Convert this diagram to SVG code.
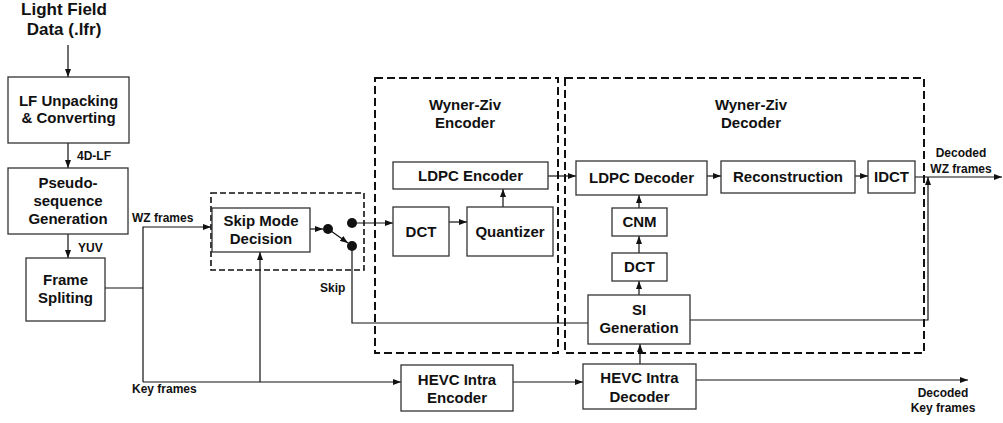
<svg xmlns="http://www.w3.org/2000/svg" width="1003" height="423" viewBox="0 0 1003 423">
<defs>
<marker id="ah" markerWidth="8" markerHeight="6" refX="8" refY="3" orient="auto" markerUnits="userSpaceOnUse">
<path d="M0,0 L8,3 L0,6 z" fill="#111"/>
</marker>
<style>
.box{fill:#fff;stroke:#333;stroke-width:1.3}
.dash{fill:none;stroke:#111;stroke-width:2;stroke-dasharray:8 4}
.dash2{fill:none;stroke:#111;stroke-width:1.6;stroke-dasharray:6 3}
.t{font-family:"Liberation Sans",Arial,sans-serif;font-weight:bold;font-size:15px;fill:#111;text-anchor:middle}
.ti{font-family:"Liberation Sans",Arial,sans-serif;font-weight:bold;font-size:17px;fill:#111;text-anchor:middle}
.s{font-family:"Liberation Sans",Arial,sans-serif;font-weight:bold;font-size:12px;fill:#111}
.sm{font-family:"Liberation Sans",Arial,sans-serif;font-weight:bold;font-size:12px;fill:#111;text-anchor:middle}
.c{fill:none;stroke:#111;stroke-width:1.2}
.a{fill:none;stroke:#111;stroke-width:1.2;marker-end:url(#ah)}
</style>
</defs>
<rect width="1003" height="423" fill="#fff"/>

<g id="groups">
<rect class="dash2" x="211" y="193" width="153" height="77"/>
<rect class="dash" x="375" y="78" width="183" height="275"/>
<rect class="dash" x="565" y="78" width="359" height="275"/>
<text class="t" x="465" y="110">Wyner-Ziv</text>
<text class="t" x="465" y="128">Encoder</text>
<text class="t" x="751" y="110">Wyner-Ziv</text>
<text class="t" x="751" y="128">Decoder</text>
</g>

<g id="connectors">
<line class="a" x1="68" y1="45" x2="68" y2="77"/>
<line class="a" x1="68" y1="143" x2="68" y2="168"/>
<line class="a" x1="68" y1="234" x2="68" y2="258"/>
<polyline class="c" points="105,288 143,288"/>
<polyline class="a" points="143,382 143,227 211,227"/>
<polyline class="a" points="143,382 401,382"/>
<line class="a" x1="260" y1="382" x2="260" y2="252"/>
<line class="a" x1="310" y1="229" x2="323" y2="229"/>
<line class="a" x1="331" y1="231" x2="348" y2="243"/>
<line class="a" x1="352" y1="223" x2="393" y2="223"/>
<polyline class="c" points="352,246 352,323 588,323"/>
<line class="a" x1="449" y1="222" x2="467" y2="222"/>
<line class="a" x1="503" y1="207" x2="503" y2="189"/>
<line class="a" x1="548" y1="176" x2="576" y2="176"/>
<line class="a" x1="707" y1="176" x2="721" y2="176"/>
<line class="a" x1="855" y1="176" x2="868" y2="176"/>
<line class="a" x1="915" y1="177" x2="1002" y2="177"/>
<polyline class="a" points="690,320 928,320 928,177"/>
<line class="a" x1="639" y1="295" x2="639" y2="281"/>
<line class="a" x1="639" y1="253" x2="639" y2="236"/>
<line class="a" x1="639" y1="208" x2="639" y2="195"/>
<line class="a" x1="640" y1="364" x2="640" y2="344"/>
<line class="a" x1="513" y1="382" x2="583" y2="382"/>
<line class="a" x1="696" y1="380" x2="968" y2="380"/>
<circle cx="328" cy="229" r="5" fill="#111"/>
<circle cx="352" cy="223" r="5" fill="#111"/>
<circle cx="352" cy="246" r="5" fill="#111"/>
</g>

<g id="labels">
<text class="s" x="77" y="160">4D-LF</text>
<text class="s" x="78" y="252">YUV</text>
<text class="s" x="132" y="222">WZ frames</text>
<text class="s" x="132" y="393">Key frames</text>
<text class="s" x="320" y="292">Skip</text>
<text class="sm" x="961" y="157">Decoded</text>
<text class="sm" x="961" y="173">WZ frames</text>
<text class="sm" x="943" y="397">Decoded</text>
<text class="sm" x="943" y="412">Key frames</text>
</g>

<g id="input">
<text class="ti" x="64" y="15">Light Field</text>
<text class="ti" x="64" y="35">Data (.lfr)</text>
</g>

<g id="lf-unpacking">
<rect class="box" x="8" y="77" width="121" height="66"/>
<text class="t" x="68.5" y="106">LF Unpacking</text>
<text class="t" x="68.5" y="123">&amp; Converting</text>
</g>

<g id="pseudo-sequence">
<rect class="box" x="8" y="168" width="120" height="66"/>
<text class="t" x="68" y="188">Pseudo-</text>
<text class="t" x="68" y="206">sequence</text>
<text class="t" x="68" y="224">Generation</text>
</g>

<g id="frame-spliting">
<rect class="box" x="26" y="258" width="79" height="63"/>
<text class="t" x="65.5" y="285">Frame</text>
<text class="t" x="65.5" y="303">Spliting</text>
</g>

<g id="skip-mode">
<rect class="box" x="212" y="208" width="98" height="44"/>
<text class="t" x="261" y="226">Skip Mode</text>
<text class="t" x="261" y="244">Decision</text>
</g>

<g id="ldpc-encoder">
<rect class="box" x="393" y="162" width="155" height="27"/>
<text class="t" x="470.5" y="181">LDPC Encoder</text>
</g>

<g id="dct-enc">
<rect class="box" x="393" y="207" width="56" height="49"/>
<text class="t" x="421" y="237">DCT</text>
</g>

<g id="quantizer">
<rect class="box" x="467" y="207" width="86" height="49"/>
<text class="t" x="510" y="237">Quantizer</text>
</g>

<g id="ldpc-decoder">
<rect class="box" x="576" y="161" width="131" height="34"/>
<text class="t" x="641.5" y="183">LDPC Decoder</text>
</g>

<g id="reconstruction">
<rect class="box" x="721" y="161" width="134" height="32"/>
<text class="t" x="788" y="182">Reconstruction</text>
</g>

<g id="idct">
<rect class="box" x="868" y="161" width="47" height="32"/>
<text class="t" x="891.5" y="182">IDCT</text>
</g>

<g id="cnm">
<rect class="box" x="612" y="208" width="55" height="28"/>
<text class="t" x="639.5" y="227">CNM</text>
</g>

<g id="dct-dec">
<rect class="box" x="612" y="253" width="55" height="28"/>
<text class="t" x="639.5" y="272">DCT</text>
</g>

<g id="si-generation">
<rect class="box" x="588" y="295" width="102" height="49"/>
<text class="t" x="639" y="315">SI</text>
<text class="t" x="639" y="333">Generation</text>
</g>

<g id="hevc-encoder">
<rect class="box" x="401" y="365" width="112" height="46"/>
<text class="t" x="457" y="385">HEVC Intra</text>
<text class="t" x="457" y="403">Encoder</text>
</g>

<g id="hevc-decoder">
<rect class="box" x="583" y="364" width="113" height="45"/>
<text class="t" x="639.5" y="383">HEVC Intra</text>
<text class="t" x="639.5" y="402">Decoder</text>
</g>
</svg>
